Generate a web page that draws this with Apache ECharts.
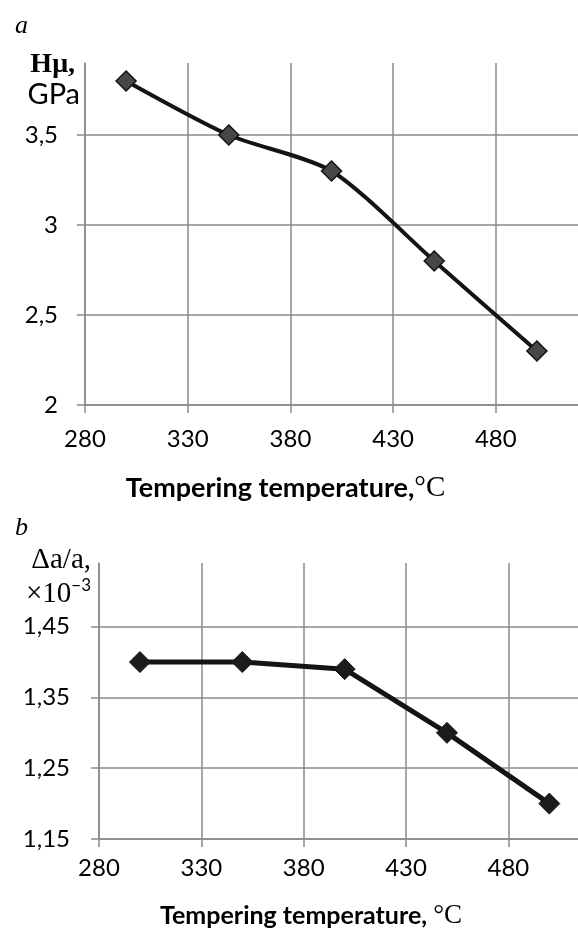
<!DOCTYPE html>
<html>
<head>
<meta charset="utf-8">
<script src="https://cdn.jsdelivr.net/npm/echarts@6/dist/echarts.min.js"></script>
<style>
    html, body { margin: 0; padding: 0; background: #fff; }
    #chart { width: 578px; height: 932px; }
</style>
</head>
<body>
<div id="chart"></div>
<script>
// tempering temperatures, same for both panels
var temperatures = [300, 350, 400, 450, 500];
// panel a: microhardness, GPa
var hardness = [3.8, 3.5, 3.3, 2.8, 2.3];
// panel b: lattice distortion, x10^-3
var latticeStrain = [1.40, 1.40, 1.39, 1.30, 1.20];
// axis ranges / ticks
var xTicks = { min: 280, step: 50 };
var yTicksA = { min: 2, max: 3.9, step: 0.5 };
var yTicksB = { min: 1.15, max: 1.54, step: 0.1 };

var gridColor = '#8a8a8a';
var sans = 'Lato';
var serif = 'Liberation Serif';

function toPairs(xs, ys) {
    var out = [];
    for (var i = 0; i < xs.length; i++) {
        out.push([xs[i], ys[i]]);
    }
    return out;
}

function commaNum(v) {
    return String(Math.round(v * 100) / 100).replace('.', ',');
}

function xAxisOf(gridIndex, max, labelMargin, nameGap, namePad, nameText, titleSize) {
    return {
        type: 'value',
        gridIndex: gridIndex,
        min: xTicks.min,
        max: max,
        interval: xTicks.step,
        axisLine: { show: true, lineStyle: { color: gridColor, width: 1.5 } },
        axisTick: { show: true, length: 8, lineStyle: { color: gridColor, width: 1.5 } },
        axisLabel: {
            margin: labelMargin,
            showMaxLabel: false,
            color: '#000',
            fontFamily: sans,
            fontSize: 24
        },
        splitLine: { show: true, showMaxLine: false, lineStyle: { color: gridColor, width: 1.5 } },
        name: nameText,
        nameLocation: 'middle',
        nameGap: nameGap,
        nameTextStyle: {
            padding: namePad,
            color: '#000',
            rich: {
                t: { fontFamily: sans, fontWeight: 'bold', fontSize: titleSize, color: '#000' },
                c: { fontFamily: serif, fontSize: titleSize + 2, color: '#000' }
            }
        }
    };
}

function yAxisOf(gridIndex, ticks, labelMargin, name, nameGap, namePad, rich) {
    return {
        type: 'value',
        gridIndex: gridIndex,
        min: ticks.min,
        max: ticks.max,
        interval: ticks.step,
        axisLine: { show: true, lineStyle: { color: gridColor, width: 1.5 } },
        axisTick: { show: true, length: 8, lineStyle: { color: gridColor, width: 1.5 } },
        axisLabel: {
            margin: labelMargin,
            showMaxLabel: false,
            color: '#000',
            fontFamily: sans,
            fontSize: 24,
            formatter: commaNum
        },
        splitLine: { show: true, showMaxLine: false, lineStyle: { color: gridColor, width: 1.5 } },
        name: name,
        nameLocation: 'end',
        nameGap: nameGap,
        nameTextStyle: {
            align: 'right',
            verticalAlign: 'top',
            padding: namePad,
            rich: rich
        }
    };
}

var myChart = echarts.init(document.getElementById('chart'), null, { renderer: 'canvas' });

var option = {
    backgroundColor: '#fff',
    animation: false,
    title: [
        { text: 'a', left: 10, top: 8, textStyle: { fontFamily: serif, fontStyle: 'italic', fontWeight: 'normal', fontSize: 26, color: '#000' } },
        { text: 'b', left: 10, top: 510, textStyle: { fontFamily: serif, fontStyle: 'italic', fontWeight: 'normal', fontSize: 26, color: '#000' } }
    ],
    grid: [
        { left: 85, top: 63, width: 493, height: 342 },
        { left: 99, top: 563, width: 479, height: 276 }
    ],
    xAxis: [
        xAxisOf(0, 520, 22, 69, [0, 92, 0, 0], '{t|Tempering temperature,}{c|°C}', 27),
        xAxisOf(1, 514, 17, 63, [0, 55, 0, 0], '{t|Tempering temperature, }{c|°C}', 25)
    ],
    yAxis: [
        yAxisOf(0, yTicksA, 27, '{h|Hμ,}\n{g|GPa}', 13, [0, 5, 0, 0], {
            h: { fontFamily: serif, fontWeight: 'bold', fontSize: 28, lineHeight: 30, color: '#000', padding: [0, 5, 0, 0] },
            g: { fontFamily: sans, fontSize: 29, lineHeight: 30, color: '#000' }
        }),
        yAxisOf(1, yTicksB, 29, '{s|Δa/a,}\n{s|×10}{p|−3}', 20, [0, 8, 0, 0], {
            s: { fontFamily: serif, fontSize: 29, lineHeight: 34, color: '#000' },
            p: { fontFamily: sans, fontSize: 17, lineHeight: 34, verticalAlign: 'top', color: '#000' }
        })
    ],
    series: [
        {
            type: 'line',
            xAxisIndex: 0,
            yAxisIndex: 0,
            data: toPairs(temperatures, hardness),
            smooth: 0.25,
            symbol: 'diamond',
            symbolSize: 20,
            lineStyle: { color: '#141414', width: 4 },
            itemStyle: { color: '#474747', borderColor: '#141414', borderWidth: 1.5 }
        },
        {
            type: 'line',
            xAxisIndex: 1,
            yAxisIndex: 1,
            data: toPairs(temperatures, latticeStrain),
            symbol: 'diamond',
            symbolSize: 21,
            lineStyle: { color: '#141414', width: 5 },
            itemStyle: { color: '#1c1c1c', borderColor: '#141414', borderWidth: 1 }
        }
    ]
};
myChart.setOption(option);
</script>
</body>
</html>
